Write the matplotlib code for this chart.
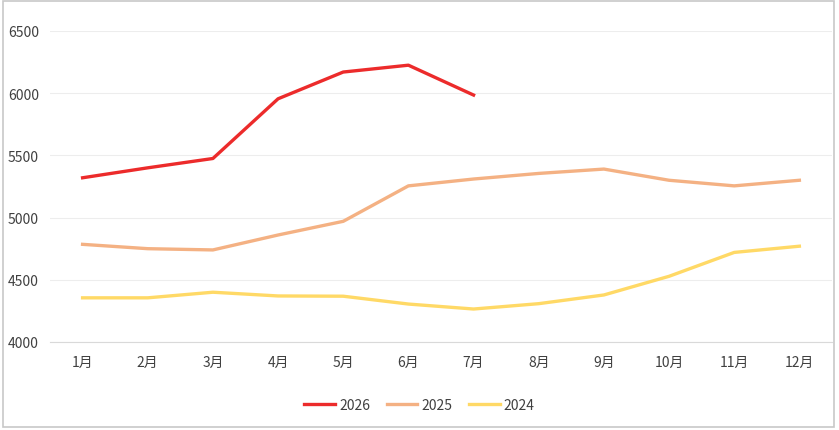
import matplotlib.pyplot as plt
from matplotlib.patches import Rectangle

plt.rcParams['font.family'] = ['Noto Sans CJK SC', 'DejaVu Sans']

months = ['1月', '2月', '3月', '4月', '5月', '6月',
          '7月', '8月', '9月', '10月', '11月', '12月']
y2026 = [5320, 5400, 5475, 5955, 6170, 6225, 5985]
y2025 = [4785, 4750, 4740, 4860, 4970, 5255, 5310, 5355, 5390, 5300, 5255, 5300]
y2024 = [4355, 4355, 4400, 4370, 4368, 4305, 4265, 4308, 4378, 4528, 4720, 4770]

fig = plt.figure(figsize=(8.39, 4.31), dpi=100)
ax = fig.add_axes([0.0596, 0.2042, 0.932, 0.7216])

ax.plot(range(len(y2026)), y2026, color='#EC2B2B', lw=2.4, label='2026')
ax.plot(range(len(y2025)), y2025, color='#F4B183', lw=2.4, label='2025')
ax.plot(range(len(y2024)), y2024, color='#FFD966', lw=2.4, label='2024')

ax.set_xlim(-0.5, 11.5)
ax.set_ylim(4000, 6500)
ax.set_yticks(range(4000, 6501, 500))
ax.set_xticks(range(12))
ax.set_xticklabels(months)
ax.grid(axis='y', color='#EDEDED', lw=0.8)
ax.set_axisbelow(True)
for s in ['top', 'left', 'right']:
    ax.spines[s].set_visible(False)
ax.spines['bottom'].set_color('#D9D9D9')
ax.tick_params(length=0, labelsize=10, colors='#404040')
ax.tick_params(axis='x', pad=9)
ax.tick_params(axis='y', pad=8)

ax.legend(loc='center', bbox_to_anchor=(0.5, 0.058), bbox_transform=fig.transFigure,
          ncol=3, frameon=False, fontsize=10, handlelength=2.2, columnspacing=1.2,
          handletextpad=0.3, labelcolor='#404040')

fig.patches.append(Rectangle((0.004, 0.006), 0.99, 0.99, transform=fig.transFigure,
                             fill=False, edgecolor='#C8C8C8', lw=1.2))

fig.savefig('out.png', dpi=100)
